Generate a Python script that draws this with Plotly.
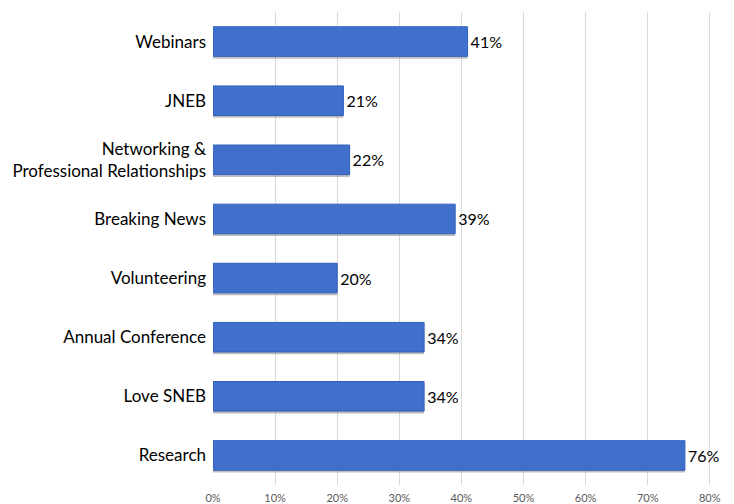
import plotly.graph_objects as go

categories = ["Research", "Love SNEB", "Annual Conference", "Volunteering",
              "Breaking News", "Networking &<br>Professional Relationships", "JNEB", "Webinars"]
values = [76, 34, 34, 20, 39, 22, 21, 41]
labels = [f"{v}%" for v in values]
tick_vals = [0, 10, 20, 30, 40, 50, 60, 70, 80]
tick_text = [f"{v}%" for v in tick_vals]

fig = go.Figure()
# soft shadow under bars
fig.add_trace(go.Bar(
    y=categories, x=values, orientation="h",
    marker=dict(color="rgba(110,110,110,0.45)", line=dict(width=0)),
    width=0.52, offset=-0.29, hoverinfo="skip", showlegend=False,
))
fig.add_trace(go.Bar(
    y=categories, x=values, orientation="h",
    marker=dict(color="#4170cc", line=dict(color="#3160bd", width=1)),
    width=0.5, offset=-0.25,
    text=labels, textposition="outside", cliponaxis=False,
    textfont=dict(size=16, color="black", family="Lato"),
    showlegend=False,
))

fig.update_layout(
    width=734, height=504,
    margin=dict(l=213, r=23, t=12, b=19),
    plot_bgcolor="white", paper_bgcolor="white",
    barmode="overlay",
    font=dict(family="Lato", size=17, color="black"),
    xaxis=dict(range=[0, 80.2], tickvals=tick_vals, ticktext=tick_text,
               showgrid=True, gridcolor="#d9d9d9", gridwidth=1,
               zeroline=False, showline=False, automargin=False,
               ticklabelstandoff=5,
               tickfont=dict(size=11, color="#595959"), ticks=""),
    yaxis=dict(showgrid=False, zeroline=False, showline=False, ticks="",
               automargin=False, ticklabelstandoff=6,
               tickfont=dict(size=17, color="black"),
               range=[-0.5, 7.5]),
)

fig.write_html("out.html", config={"displayModeBar": False},
               post_script="document.body.style.margin='0px';document.body.style.overflow='hidden';")
